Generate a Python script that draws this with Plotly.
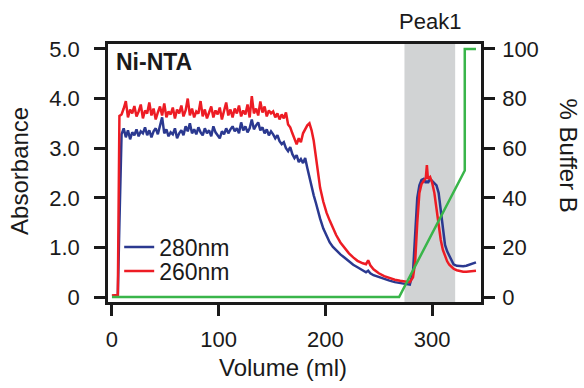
import plotly.graph_objects as go

# ---------------- data ----------------
volume = ([0, 3, 5.5, 7] + list(range(9, 190, 2)) +
          [191, 193, 195, 198, 201, 204, 207, 210, 214, 218, 222, 226, 230, 235,
           238, 240, 242, 245, 250, 255, 260, 265, 270, 275, 279, 282, 284, 286,
           288, 290, 292, 294, 295, 296, 298, 300, 302, 304, 306, 308, 310, 312,
           314, 316, 318, 320, 323, 326, 329, 332, 335, 338, 341])

abs_260 = ([0.03, 0.03, 0.04, 3.65] +
           [3.68, 3.80, 3.95, 3.62, 3.78, 3.70, 3.85, 3.64, 3.74, 3.88,
            3.60, 3.76, 3.70, 3.92, 3.66, 3.80, 3.58, 3.72, 3.84, 3.66,
            3.90, 3.62, 3.74, 3.68, 3.82, 3.60, 3.78, 3.70, 3.86, 3.64,
            3.76, 4.00, 3.66, 3.80, 3.62, 3.74, 3.70, 3.95, 3.64, 3.78,
            3.60, 3.72, 3.84, 3.62, 3.76, 3.68, 3.82, 3.58, 3.74, 3.92,
            3.66, 3.78, 3.62, 3.80, 3.70, 3.86, 3.64, 3.76, 3.68, 3.88,
            3.62, 4.05, 3.70, 3.80, 3.66, 3.94, 3.72, 3.84, 3.64, 3.76,
            3.70,
            3.74, 3.62, 3.70, 3.58, 3.68, 3.60, 3.72, 3.48, 3.42, 3.30,
            3.18, 3.08, 3.20, 3.12, 3.30, 3.38, 3.46, 3.50, 3.36, 3.15] +
           [2.85, 2.45, 2.20, 1.92, 1.70, 1.54, 1.38, 1.25, 1.10, 0.98,
            0.88, 0.80, 0.73, 0.68, 0.66, 0.74, 0.64, 0.56, 0.48, 0.42,
            0.38, 0.35, 0.33, 0.31, 0.30, 0.40, 0.70, 1.50, 2.10, 2.28,
            2.34, 2.40, 2.66, 2.38, 2.42, 2.30, 2.10, 1.75, 1.42, 1.15,
            0.95, 0.82, 0.72, 0.65, 0.60, 0.57, 0.54, 0.52, 0.51, 0.51,
            0.52, 0.52, 0.53])

abs_280 = ([0.02, 0.02, 0.03, 1.50] +
           [3.28, 3.40, 3.22, 3.36, 3.18, 3.32, 3.26, 3.38, 3.24, 3.34,
            3.30, 3.42, 3.26, 3.36, 3.22, 3.34, 3.40, 3.28, 3.46, 3.62,
            3.30, 3.38, 3.24, 3.32, 3.28, 3.40, 3.20, 3.30, 3.36, 3.26,
            3.44, 3.34, 3.50, 3.30, 3.38, 3.28, 3.42, 3.32, 3.26, 3.40,
            3.30, 3.36, 3.24, 3.44, 3.32, 3.26, 3.20, 3.34, 3.28, 3.40,
            3.30, 3.38, 3.44, 3.34, 3.40, 3.30, 3.52, 3.36, 3.44, 3.32,
            3.40, 3.58, 3.38, 3.46, 3.52, 3.36, 3.42, 3.30, 3.38, 3.26,
            3.34,
            3.28, 3.20, 3.26, 3.14, 3.08, 3.12, 3.00, 2.94, 3.02, 2.88,
            2.80, 2.86, 2.72, 2.78, 2.70, 2.80, 2.60, 2.40, 2.22, 2.05] +
           [1.90, 1.72, 1.58, 1.38, 1.22, 1.10, 1.01, 0.94, 0.86, 0.79,
            0.72, 0.65, 0.60, 0.53, 0.50, 0.53, 0.48, 0.44, 0.40, 0.36,
            0.33, 0.30, 0.28, 0.26, 0.25, 0.50, 1.30, 2.00, 2.25, 2.36,
            2.38, 2.30, 2.34, 2.30, 2.38, 2.34, 2.30, 2.25, 2.10, 1.75,
            1.38, 1.05, 0.92, 0.83, 0.72, 0.66, 0.63, 0.62, 0.62, 0.63,
            0.65, 0.67, 0.70])

grad_volume = [0, 269, 330.5, 330.5, 341]
buffer_b = [0, 0, 51, 100, 100]

peak_band = [274, 321.5]
x_ticks = [0, 100, 200, 300]
y_ticks = [0, 1, 2, 3, 4, 5]
y_ticktext = ["0", "1.0", "2.0", "3.0", "4.0", "5.0"]
y2_ticks = [0, 20, 40, 60, 80, 100]

BLUE = "#2b3990"
RED = "#ed1c24"
GREEN = "#39b54a"
GRAY = "#d1d3d4"
INK = "#1a1a1a"
FONT = "Liberation Sans, Arial, Helvetica, sans-serif"

fig = go.Figure()
fig.add_trace(go.Scatter(x=volume, y=abs_280, mode="lines", name="280nm",
                         line=dict(color=BLUE, width=2.5), legend="legend"))
fig.add_trace(go.Scatter(x=volume, y=abs_260, mode="lines", name="260nm",
                         line=dict(color=RED, width=2.5), legend="legend2"))
fig.add_trace(go.Scatter(x=grad_volume, y=buffer_b, mode="lines", name="% Buffer B",
                         line=dict(color=GREEN, width=2.5), yaxis="y2",
                         showlegend=False))

fig.add_shape(type="rect", xref="x", yref="paper", x0=peak_band[0], x1=peak_band[1],
              y0=0, y1=1, fillcolor=GRAY, line=dict(width=0), layer="below")

axis_common = dict(showline=True, linecolor=INK, linewidth=2.5, ticks="outside",
                   ticklen=11, tickwidth=2.5, tickcolor=INK, showgrid=False,
                   zeroline=False, automargin=False,
                   tickfont=dict(family=FONT, size=22, color=INK))

fig.update_layout(
    width=584, height=388,
    margin=dict(l=108, r=103, t=44, b=86),
    paper_bgcolor="white", plot_bgcolor="white",
    font=dict(family=FONT, color=INK),
    xaxis=dict(range=[-3.7, 345.7], tickvals=x_ticks, mirror=True,
               ticklabelstandoff=5, **axis_common),
    yaxis=dict(range=[-0.1, 5.1], tickvals=y_ticks, ticktext=y_ticktext,
               ticklabelstandoff=10, **axis_common),
    yaxis2=dict(range=[-2, 102], tickvals=y2_ticks, overlaying="y", side="right",
                ticklabelstandoff=3, **axis_common),
    legend=dict(x=0.03, y=0.213, xanchor="left", yanchor="middle",
                bgcolor="rgba(0,0,0,0)", font=dict(family=FONT, size=23, color=INK),
                itemwidth=30),
    legend2=dict(x=0.03, y=0.12, xanchor="left", yanchor="middle",
                 bgcolor="rgba(0,0,0,0)", font=dict(family=FONT, size=23, color=INK),
                 itemwidth=30),
    showlegend=True,
)

ann_font = dict(family=FONT, size=24, color=INK)
fig.add_annotation(text="Volume (ml)", xref="paper", yref="paper", x=0.469, y=-0.254,
                   showarrow=False, font=ann_font, xanchor="center", yanchor="middle")
fig.add_annotation(text="Absorbance", xref="paper", yref="paper", x=-0.236, y=0.508,
                   showarrow=False, font=ann_font, textangle=-90,
                   xanchor="center", yanchor="middle")
fig.add_annotation(text="% Buffer B", xref="paper", yref="paper", x=1.235, y=0.569,
                   showarrow=False, font=ann_font, textangle=90,
                   xanchor="center", yanchor="middle")
fig.add_annotation(text="<b>Ni-NTA</b>", xref="paper", yref="paper", x=0.017, y=0.932,
                   showarrow=False, font=dict(family=FONT, size=23, color=INK),
                   xanchor="left", yanchor="middle")
fig.add_annotation(text="Peak1", xref="x", yref="paper", x=298, y=1.088,
                   showarrow=False, font=dict(family=FONT, size=22, color=INK),
                   xanchor="center", yanchor="middle")

fig.write_html("out.html",
               config={"displayModeBar": False},
               post_script="document.body.style.margin='0';"
                           "document.body.style.overflow='hidden';")
